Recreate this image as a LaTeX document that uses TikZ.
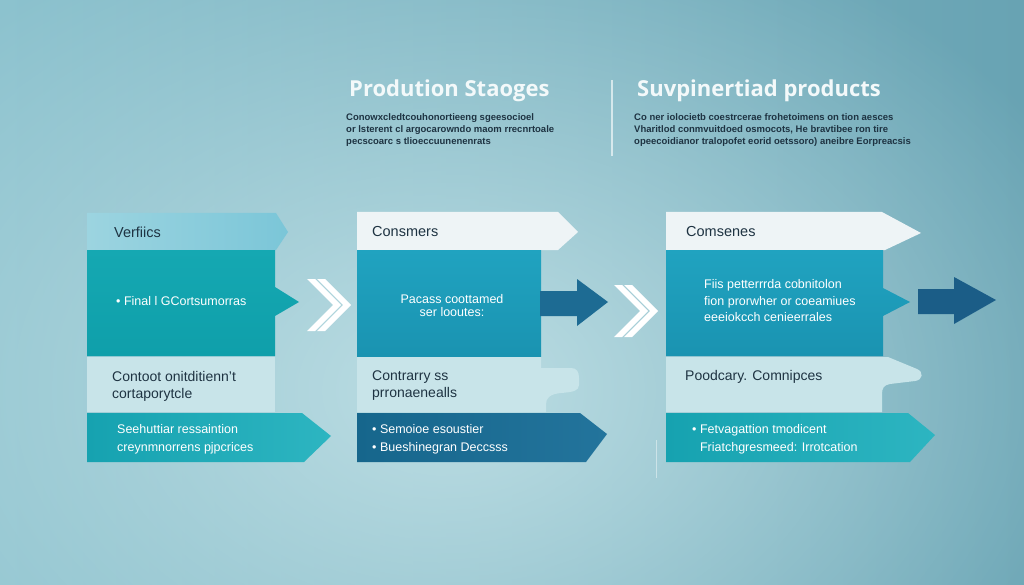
\documentclass[tikz,border=0pt]{standalone}
\usepackage{fontspec}
\setmainfont{Liberation Sans}
\newfontfamily\titlefont{Open Sans}
\usetikzlibrary{positioning, calc, fadings}
\definecolor{bgLeft}{HTML}{8CC2CE}
\definecolor{bgMiddle}{HTML}{A2CED7}
\definecolor{bgRight}{HTML}{68A3B3}
\definecolor{bgGlow}{HTML}{BDDEE4}
\definecolor{tabLightL}{HTML}{9CD4E0}
\definecolor{tabLightR}{HTML}{7BC6D8}
\definecolor{headWhite}{HTML}{EEF4F6}
\definecolor{tealTop}{HTML}{15A8B2}
\definecolor{tealBot}{HTML}{0F9FAA}
\definecolor{blueTop}{HTML}{20A3C0}
\definecolor{blueBot}{HTML}{1A93B1}
\definecolor{paleBox}{HTML}{C8E4E9}
\definecolor{tealArrL}{HTML}{16A2B0}
\definecolor{tealArrR}{HTML}{2DB5C1}
\definecolor{navyL}{HTML}{16668C}
\definecolor{navyR}{HTML}{23749C}
\definecolor{navyArrow}{HTML}{1D6B93}
\definecolor{navyDeep}{HTML}{1B5D87}
\definecolor{inkDark}{HTML}{1E3342}
\definecolor{titleWhite}{HTML}{F3F9FA}
\tikzfading[name=glowfade, inner color=transparent!0, outer color=transparent!100]
\tikzset{
  titletext/.style={anchor=base west, inner sep=0pt, text=titleWhite, font=\titlefont\bfseries\fontsize{22}{26}\selectfont},
  bodytext/.style={anchor=north west, inner sep=0pt, align=left, text=inkDark, font=\bfseries\fontsize{9.5}{12}\selectfont},
  tablabel/.style={anchor=west, inner sep=0pt, text=inkDark, font=\fontsize{14.5}{17}\selectfont},
  palelabel/.style={anchor=west, inner sep=0pt, align=left, text=inkDark, font=\fontsize{14}{17}\selectfont},
  boxtext/.style={inner sep=0pt, text=white, font=\fontsize{12.5}{18}\selectfont},
}
% double chevron between the columns
\newcommand{\DrawChevrons}[2]{
    \begin{scope}[shift={(#1,#2)}]
        \fill[white] (0,0) -- (8,0) -- (34,26) -- (8,52) -- (0,52) -- (26,26) -- cycle;
        \fill[white] (10,0) -- (18,0) -- (44,26) -- (18,52) -- (10,52) -- (36,26) -- cycle;
    \end{scope}
}
% solid block arrow leaving a column: x, y, shaft length, tip, colour
\newcommand{\DrawBlockArrow}[5]{
    \begin{scope}[shift={(#1,#2)}]
        \fill[#5] (0,0) -- (#3,0) -- (#3,-12) -- (#4,11) -- (#3,35) -- (#3,25) -- (0,25) -- cycle;
    \end{scope}
}

\begin{document}
\begin{tikzpicture}[x=1pt, y=-1pt]
    \useasboundingbox (0,0) rectangle (1024,585);
    % Background
    \shade[left color=bgLeft, middle color=bgMiddle, right color=bgRight] (0,0) rectangle (1024,585);
    \begin{scope}
        \clip (0,0) rectangle (1024,585);
        \fill[bgGlow, path fading=glowfade] (450,390) ellipse (700 and 500);
    \end{scope}

    % Headings
    \node[titletext] (hdProd) at (349,97) {Prodution Staoges};
    \node[bodytext] (txProd) at (346,113) {Conowxcledtcouhonortieeng sgeesocioel\\or lsterent cl argocarowndo maom rrecnrtoale\\pecscoarc s tlioeccuunenenrats};
    \draw[titleWhite, opacity=0.7, line width=1.5pt] (612,80) -- (612,156);
    \node[titletext] (hdSupp) at (637,97) {Suvpinertiad products};
    \node[bodytext] (txSupp) at (634,113) {Co ner iolocietb coestrcerae frohetoimens on tion aesces\\Vharitlod conmvuitdoed osmocots, He bravtibee ron tire\\opeecoidianor tralopofet eorid oetssoro) aneibre Eorpreacsis};

    % Column 1
    \shade[left color=tabLightL, right color=tabLightR] (87,213) -- (276,213) -- (288,232) -- (276,250) -- (87,250) -- cycle;
    \shade[top color=tealTop, bottom color=tealBot] (87,250) -- (275,250) -- (275,287) -- (299,302) -- (275,316) -- (275,356) -- (87,356) -- cycle;
    \fill[paleBox] (87,357) rectangle (275,412);
    \shade[left color=tealArrL, right color=tealArrR] (87,413) -- (302,413) -- (331,436) -- (304,462) -- (87,462) -- cycle;
    \node[tablabel] (lbVer) at (114,232) {Verfiics};
    \node[boxtext, anchor=west] (txFin) at (116,301) {\textbullet\ Final l GCortsumorras};
    \node[palelabel] (txCon) at (112,386) {Contoot onitditienn't\\cortaporytcle};
    \node[boxtext, anchor=west, align=left] (txSee) at (117,439) {Seehuttiar ressaintion\\creynmnorrens pjpcrices};

    \DrawChevrons{307}{279}

    % Column 2
    \fill[headWhite] (357,212) -- (558,212) -- (578,232) -- (558,250) -- (357,250) -- cycle;
    \shade[top color=blueTop, bottom color=blueBot] (357,250) rectangle (541,356);
    \fill[paleBox] (357,357) -- (541,357) -- (541,368) -- (571,368) .. controls (577,368) and (579,372) .. (579,378) -- (579,385) .. controls (579,391) and (573,392) .. (561,393) .. controls (550,394) and (546,398) .. (546,404) -- (546,412) -- (357,412) -- cycle;
    \shade[left color=navyL, right color=navyR] (357,413) -- (580,413) -- (607,434) -- (586,462) -- (357,462) -- cycle;
    \DrawBlockArrow{540}{291}{37}{68}{navyArrow}
    \node[tablabel] (lbCns) at (372,232) {Consmers};
    \node[boxtext, align=center, font=\fontsize{12.5}{13}\selectfont] (txPac) at (452,306) {Pacass coottamed\\ser looutes:};
    \node[palelabel] (txCtr) at (372,386) {Contrarry ss\\prronaenealls};
    \node[boxtext, anchor=west, align=left] (txSem) at (372,439) {\textbullet\ Semoioe esoustier\\\textbullet\ Bueshinegran Deccsss};

    \DrawChevrons{614}{285}

    % Column 3
    \fill[headWhite] (666,212) -- (882,212) -- (921,233) -- (885,250) -- (666,250) -- cycle;
    \shade[top color=blueTop, bottom color=blueBot] (666,250) -- (883,250) -- (883,288) -- (910,302) -- (883,316) -- (883,356) -- (666,356) -- cycle;
    \fill[paleBox] (666,357) -- (888,357) -- (917,369) .. controls (924,372) and (923,380) .. (915,381) -- (890,384) .. controls (884,385) and (882,388) .. (882,394) -- (882,412) -- (666,412) -- cycle;
    \shade[left color=tealArrL, right color=tealArrR] (666,413) -- (908,413) -- (935,435) -- (910,462) -- (666,462) -- cycle;
    \DrawBlockArrow{918}{289}{36}{78}{navyDeep}
    \draw[titleWhite, opacity=0.5, line width=1pt] (656,440) -- (656,478);
    \node[tablabel] (lbCms) at (686,232) {Comsenes};
    \node[boxtext, anchor=west, align=left, font=\fontsize{12.5}{16.5}\selectfont] (txFii) at (704,301) {Fiis petterrrda cobnitolon\\fion prorwher or coeamiues\\eeeiokcch cenieerrales};
    \node[palelabel] (txPoo) at (685,377) {Poodcary. Comnipces};
    \node[boxtext, anchor=west, align=left] (txFet) at (692,439) {\textbullet\ Fetvagattion tmodicent\\\phantom{\textbullet\ }Friatchgresmeed: Irrotcation};
\end{tikzpicture}
\end{document}
